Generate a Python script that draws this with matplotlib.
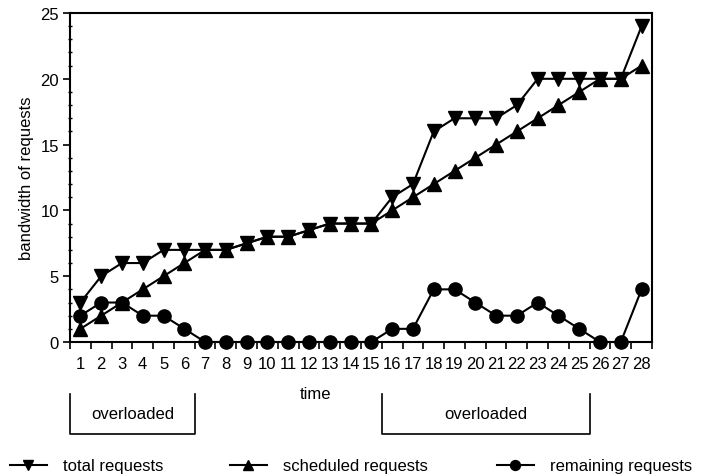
import numpy as np
import matplotlib
matplotlib.use('Agg')
import matplotlib.pyplot as plt
from matplotlib.lines import Line2D
import matplotlib.transforms as mtransforms

plt.rcParams['font.family'] = ['Liberation Sans', 'DejaVu Sans']

# data
time = np.arange(1, 29)
total = [3, 5, 6, 6, 7, 7, 7, 7, 7.5, 8, 8, 8.5, 9, 9, 9,
         11, 12, 16, 17, 17, 17, 18, 20, 20, 20, 20, 20, 24]
scheduled = [1, 2, 3, 4, 5, 6, 7, 7, 7.5, 8, 8, 8.5, 9, 9, 9,
             10, 11, 12, 13, 14, 15, 16, 17, 18, 19, 20, 20, 21]
remaining = [2, 3, 3, 2, 2, 1, 0, 0, 0, 0, 0, 0, 0, 0, 0,
             1, 1, 4, 4, 3, 2, 2, 3, 2, 1, 0, 0, 4]
overloaded = [(1, 6), (16, 25)]   # first and last time slot

fig = plt.figure(figsize=(7.04, 4.77), dpi=100)
ax = fig.add_axes([70/704, 1-343/477, 582/704, 329/477])

lw = 1.5
h1, = ax.plot(time, total, '-v', color='k', lw=lw, ms=10, clip_on=False, zorder=3)
h2, = ax.plot(time, scheduled, '-^', color='k', lw=lw, ms=10, clip_on=False, zorder=3)
h3, = ax.plot(time, remaining, '-o', color='k', lw=lw, ms=9.5, clip_on=False, zorder=3)

ax.set_xlim(0.5, 28.5)
ax.set_ylim(0, 25)
for s in ax.spines.values():
    s.set_linewidth(1.5)

fs = 12
ax.set_xticks(time)
ax.set_xticklabels([str(t) for t in time])
ax.set_xticks(np.arange(0.5, 29, 1), minor=True)
ax.tick_params(axis='x', which='major', length=0, pad=10, labelsize=fs)
ax.tick_params(axis='x', which='minor', length=5, width=1.2, direction='out')
ax.set_yticks(np.arange(0, 26, 5))
ax.set_yticks(np.arange(0, 26, 1), minor=True)
ax.tick_params(axis='y', which='major', length=5, width=1.2, direction='out', pad=3, labelsize=fs)
ax.tick_params(axis='y', which='minor', length=3, width=1, direction='inout')

ax.set_ylabel('bandwidth of requests', fontsize=fs)
ax.yaxis.set_label_coords(-0.062, 0.5)
ax.set_xlabel('time', fontsize=fs)
ax.xaxis.set_label_coords(0.421, -0.134)

# overloaded brackets under the axis
trans = mtransforms.blended_transform_factory(ax.transData, ax.transAxes)
y_top, y_bot = -0.158, -0.28
for a, b in overloaded:
    x0, x1 = a - 0.5, b + 0.5
    ax.add_line(Line2D([x0, x0, x1, x1], [y_top, y_bot, y_bot, y_top],
                       transform=trans, color='k', lw=1.2, clip_on=False))
    ax.text((x0 + x1) / 2, -0.218, 'overloaded', transform=trans,
            ha='center', va='center', fontsize=fs)

# legend row at the bottom
ly = 1 - 467/477
for h, lab, x in [(h1, 'total requests', 10/704),
                  (h2, 'scheduled requests', 230/704),
                  (h3, 'remaining requests', 497/704)]:
    fig.legend([h], [lab], loc='center left', bbox_to_anchor=(x, ly),
               frameon=False, fontsize=fs, handlelength=2.2, handletextpad=1.0,
               borderpad=0, borderaxespad=0, markerscale=0.75)

fig.savefig('out.png', dpi=100)
